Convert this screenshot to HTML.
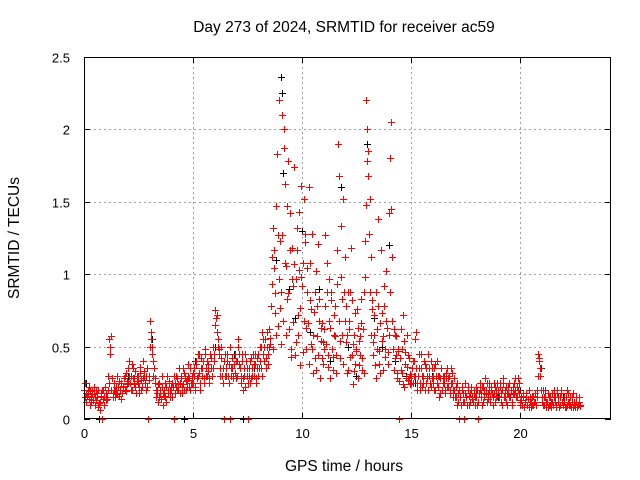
<!DOCTYPE html>
<html><head><meta charset="utf-8"><style>
body{margin:0;background:#fff;}
svg{display:block;font-family:"Liberation Sans",sans-serif;}
</style></head><body>
<svg id="chart" width="640" height="480" viewBox="0 0 640 480">
<rect width="640" height="480" fill="#fff"/>
<text x="344" y="32" font-size="15.5" text-anchor="middle">Day 273 of 2024, SRMTID for receiver ac59</text>
<text x="344" y="471" font-size="15.5" text-anchor="middle">GPS time / hours</text>
<text transform="translate(19,238) rotate(-90)" font-size="15.5" text-anchor="middle">SRMTID / TECUs</text>
<g id="grid"></g><g id="black"></g><g id="red"></g><g id="axes"></g>
</svg>
<script>
const xTicks=[0,5,10,15,20];
const yTicks=[0,0.5,1,1.5,2,2.5];
const yTickLabels=["0","0.5","1","1.5","2","2.5"];
// red series: one row per hour (hour 0..22), 20 samples per row (3-minute spacing)
const redHours=[0,1,2,3,4,5,6,7,8,9,10,11,12,13,14,15,16,17,18,19,20,21,22];
const redRowsA=[
[0.2,0.15,0.12,0.18,0.22,0.1,0.15,0.2,0.13,0.17,0.1,0.2,0.15,0.08,0.12,0.18,0.2,0.14,0.1,0.22],
[0.18,0.15,0.3,0.55,0.5,0.2,0.15,0.25,0.2,0.18,0.3,0.22,0.16,0.2,0.25,0.18,0.22,0.3,0.19,0.24],
[0.35,0.4,0.25,0.3,0.2,0.35,0.28,0.22,0.3,0.25,0.18,0.32,0.27,0.22,0.4,0.3,0.25,0.2,0.35,0.3],
[0.68,0.6,0.5,0.4,0.35,0.25,0.15,0.2,0.12,0.25,0.18,0.3,0.1,0.2,0.15,0.22,0.3,0.18,0.25,0.2],
[0.2,0.25,0.3,0.18,0.22,0.28,0.2,0.35,0.25,0.3,0.18,0.24,0.32,0.2,0.27,0.3,0.22,0.35,0.25,0.3],
[0.25,0.35,0.2,0.4,0.3,0.45,0.25,0.35,0.3,0.4,0.28,0.45,0.35,0.3,0.38,0.25,0.42,0.3,0.35,0.45],
[0.75,0.7,0.6,0.55,0.45,0.3,0.5,0.25,0.4,0.3,0.35,0.45,0.3,0.38,0.5,0.3,0.35,0.28,0.45,0.4],
[0.3,0.55,0.45,0.35,0.25,0.4,0.2,0.3,0.45,0.35,0.25,0.3,0.4,0.28,0.35,0.45,0.3,0.38,0.25,0.42],
[0.45,0.5,0.35,0.6,0.45,0.4,0.55,0.35,0.5,0.45,0.62,0.52,0.93,1.32,1.04,0.73,1.47,1.83,0.64,2.2],
[1.23,0.52,2.1,2.0,1.62,1.06,0.83,1.78,0.62,1.42,0.43,1.18,0.92,1.74,0.53,1.32,0.72,1.03,0.37,1.61],
[0.92,0.46,1.52,1.22,0.63,1.04,1.6,0.82,0.52,1.28,0.32,0.74,0.42,1.02,0.57,1.21,0.83,0.63,0.42,0.53],
[0.62,1.27,0.52,0.88,0.36,0.97,0.63,0.82,0.43,0.72,0.57,0.32,0.93,1.9,1.68,0.42,1.33,0.83,1.52,1.12],
[0.53,0.32,0.88,0.62,0.43,1.18,0.82,0.52,0.33,0.73,0.47,0.63,0.37,0.57,0.83,0.42,0.62,0.32,1.23,2.2],
[2.0,1.85,1.52,1.12,0.82,0.53,0.72,0.37,0.88,0.62,1.38,0.47,0.32,0.73,0.57,0.92,0.43,1.02,0.63,0.46],
[1.42,1.8,2.05,1.12,0.62,0.42,0.57,0.32,0.47,0.26,0.42,0.62,0.32,0.72,0.22,0.46,0.36,0.27,0.42,0.31],
[0.3,0.35,0.25,0.4,0.3,0.6,0.25,0.35,0.2,0.45,0.3,0.25,0.4,0.2,0.35,0.28,0.45,0.3,0.22,0.35],
[0.25,0.35,0.2,0.3,0.4,0.22,0.3,0.18,0.35,0.25,0.3,0.2,0.28,0.35,0.22,0.3,0.18,0.25,0.32,0.2],
[0.2,0.15,0.25,0.12,0.2,0.15,0.1,0.22,0.18,0.12,0.25,0.15,0.2,0.1,0.18,0.22,0.15,0.12,0.2,0.15],
[0.15,0.2,0.12,0.25,0.18,0.1,0.22,0.15,0.28,0.2,0.12,0.18,0.25,0.15,0.2,0.1,0.18,0.22,0.15,0.25],
[0.2,0.15,0.25,0.12,0.2,0.28,0.15,0.22,0.1,0.18,0.25,0.15,0.2,0.12,0.22,0.18,0.28,0.15,0.2,0.25],
[0.12,0.15,0.1,0.18,0.08,0.12,0.15,0.1,0.2,0.12,0.08,0.15,0.1,0.12,0.18,0.1,0.2,0.45,0.4,0.3],
[0.15,0.2,0.1,0.15,0.08,0.12,0.18,0.1,0.15,0.08,0.12,0.2,0.15,0.1,0.18,0.12,0.08,0.15,0.2,0.12],
[0.1,0.15,0.08,0.2,0.12,0.1,0.15,0.08,0.12,0.18,0.1,0.08,0.12,0.1,0.15,0.1]
];
const redRowsB=[
[0.25,0.18,0.16,0.2,0.14,0.19,0.12,0.17,0.22,0.15,0.13,0.18,0.2,0.11,0.06,0.16,0,0.2,0.15,0.13],
[0.14,0.2,0.25,0.45,0.57,0.28,0.18,0.2,0.15,0.22,0.17,0.26,0.2,0.14,0.18,0.23,0.28,0.2,0.32,0.26],
[0.25,0.3,0.2,0.38,0.28,0.24,0.33,0.18,0.26,0.3,0.22,0.36,0.2,0.28,0.33,0.25,0.3,0.22,0,0.27],
[0.5,0.55,0.45,0.3,0.28,0.2,0.18,0.24,0.15,0.2,0.14,0.22,0.18,0.16,0.25,0.12,0.2,0.26,0.15,0.22],
[0.15,0.22,0,0.25,0.3,0.2,0.24,0.18,0.28,0.22,0.35,0.2,0.3,0.26,0.22,0.38,0.28,0.2,0.25,0.32],
[0.3,0.22,0.38,0.28,0.45,0.32,0.2,0.42,0.35,0.25,0.48,0.3,0.4,0.33,0.28,0.45,0.35,0.3,0.5,0.4],
[0.65,0.72,0.5,0.48,0.35,0.42,0.3,0.35,0,0.45,0.3,0.4,0.25,0,0.35,0.42,0.3,0.38,0.32,0.28],
[0.4,0.5,0.38,0.3,0.45,0.28,0.35,0.22,0.4,0.3,0,0.35,0.25,0.42,0.3,0.38,0.45,0.28,0.35,0.3],
[0.35,0.4,0.5,0.3,0.55,0.5,0.42,0.6,0.38,0.5,0.56,0.78,1.12,0.48,1.17,0.87,0.58,1.27,0.97,0.77],
[0.88,1.27,0.68,1.87,1.08,0.58,1.47,0.87,1.17,0.48,0.97,0.67,1.07,0.44,0.97,1.17,0.58,1.43,0.77,0.98],
[1.08,0.68,1.28,0.48,0.88,0.66,0.38,1.08,0.76,0.48,0.58,0.88,0.34,0.78,0.44,0.68,0.28,0.54,0.66,0.38],
[0.48,0.78,1.08,0.44,0.68,0.28,0.88,0.48,0.34,0.58,0.78,0.44,1.17,0.68,0.54,0.98,0.58,0.38,0.88,0.68],
[0.78,0.58,0.34,0.68,0.88,0.44,0.24,0.58,0.38,0.48,0.76,0.28,0.54,0.44,0.66,0.34,0.88,0.98,1.48,1.78],
[1.68,1.28,0.88,0.58,0.76,0.44,0.58,0.28,0.48,0.78,0.38,0.66,1.17,0.54,0.34,0.78,0.48,0.68,0.38,0.58],
[0.88,1.45,0.68,0.48,0.34,0.58,0.44,0.28,0.48,0,0.34,0.48,0.24,0.54,0.38,0.28,0.58,0.44,0.28,0.24],
[0.25,0.4,0.3,0.55,0.35,0.2,0.3,0.45,0.25,0.35,0.22,0.3,0.38,0.25,0.3,0.2,0.35,0.25,0.4,0.28],
[0.3,0.2,0.38,0.25,0.3,0.15,0.28,0.35,0.2,0.3,0.25,0.18,0.32,0.22,0.28,0.2,0.35,0.25,0.15,0.28],
[0.15,0.22,0.1,0.18,0,0.15,0.2,0.12,0,0.18,0.15,0.1,0.22,0.16,0.12,0.2,0.14,0.18,0.1,0.22],
[0.1,0,0.18,0.2,0.15,0.22,0.12,0.2,0.17,0.25,0.14,0.2,0.12,0.22,0.18,0.15,0.25,0.12,0.2,0.16],
[0.15,0.22,0.18,0.1,0.25,0.15,0.2,0.12,0.18,0.22,0.15,0.2,0.1,0.17,0.25,0.2,0.15,0.22,0.28,0.18],
[0.1,0.13,0.16,0.08,0.12,0.18,0.1,0.14,0.08,0.15,0.12,0.1,0.16,0.12,0.1,0.15,0.3,0.42,0.35,0.2],
[0.12,0.1,0.15,0.2,0.12,0.08,0.15,0.1,0.12,0.18,0.1,0.15,0.12,0.08,0.2,0.15,0.1,0.18,0.12,0.1],
[0.12,0.08,0.15,0.1,0.18,0.12,0.1,0.15,0.08,0.12,0.1,0.15,0.08,0.1,0.12,0.09]
];
const blackTimes=[0.1,0.5,1.2,2.0,3.1,4.0,5.1,6.0,6.9,7.8,8.4,8.8,9.05,9.1,9.15,9.4,9.7,10.0,10.4,10.8,11.3,11.8,12.1,12.5,13.0,13.3,13.7,14.0,14.3,14.8,15.2,16.0,17.0,18.0,19.0,20.0,21.0,22.0,0.7,4.6,7.3];
const blackValues=[0.25,0.15,0.5,0.3,0.55,0.2,0.4,0.5,0.45,0.35,0.6,1.1,2.36,2.25,1.7,0.9,0.7,1.3,0.6,0.9,0.4,1.6,0.5,0.3,1.9,0.7,0.5,1.2,0.4,0.3,0.25,0.3,0.2,0.2,0.15,0.2,0.35,0.15,0,0,0];
const L=84,R=611,T=57,B=419,XMAX=24.2,YMAX=2.5;
const xs=v=>L+v/XMAX*(R-L), ys=v=>B-v/YMAX*(B-T);
const NS="http://www.w3.org/2000/svg";
function mk(tag,attrs,parent){const e=document.createElementNS(NS,tag);for(const k in attrs)e.setAttribute(k,attrs[k]);parent.appendChild(e);return e;}
const grid=document.getElementById('grid'),axes=document.getElementById('axes');
xTicks.forEach(t=>{
 const x=Math.round(xs(t))+0.5;
 if(t>0){const g=mk('line',{x1:x,y1:T,x2:x,y2:B,stroke:'#a0a0a0','stroke-dasharray':'2,3'},grid);
 
 }
 mk('line',{x1:x,y1:B,x2:x,y2:B-6,stroke:'#000'},axes);
 mk('line',{x1:x,y1:T,x2:x,y2:T+6,stroke:'#000'},axes);
 const tx=mk('text',{x:x,y:B+19,'font-size':13,'text-anchor':'middle'},axes);tx.textContent=t;
 
 
});
yTicks.forEach((t,i)=>{
 const y=Math.round(ys(t))+0.5;
 if(t>0&&t<YMAX){const g=mk('line',{x1:L,y1:y,x2:R,y2:y,stroke:'#a0a0a0','stroke-dasharray':'2,3'},grid);
 
 }
 mk('line',{x1:L,y1:y,x2:L+6,y2:y,stroke:'#000'},axes);
 mk('line',{x1:R,y1:y,x2:R-6,y2:y,stroke:'#000'},axes);
 const tx=mk('text',{x:70,y:y+5,'font-size':13,'text-anchor':'end'},axes);tx.textContent=yTickLabels[i];
 
 
});
const frame=mk('rect',{x:L+0.5,y:T+0.5,width:R-L-1,height:B-T-1,fill:'none',stroke:'#000'},axes);


function plus(x,y){x=Math.round(x)+0.5;y=Math.round(y)+0.5;return `M${x-3.5} ${y}h7M${x} ${y-3.5}v7`;}
function addPath(gid,d,col,name){
 const p=mk('path',{d:d,stroke:col,'stroke-width':1,fill:'none'},document.getElementById(gid));
 
 
}
let dB='';
blackTimes.forEach((t,i)=>{dB+=plus(xs(t),ys(blackValues[i]));});
addPath('black',dB,'#000','black-series-points');
let dR='';
redHours.forEach((h,r)=>{
 redRowsA[r].forEach((v,k)=>{dR+=plus(xs(h+(k+0.25)/20),ys(v));});
 redRowsB[r].forEach((v,k)=>{dR+=plus(xs(h+(k+0.75)/20),ys(v));});
});
addPath('red',dR,'#f00','red-series-points');
</script>
</body></html>
